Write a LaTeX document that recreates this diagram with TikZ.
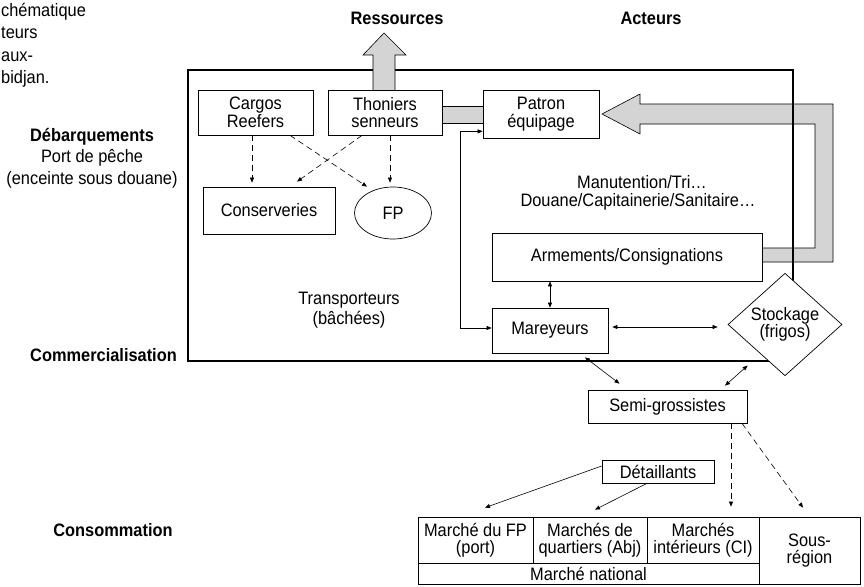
\documentclass[tikz,border=0pt]{standalone}
\usepackage{fontspec}
\setmainfont{Liberation Sans}[FakeStretch=0.91]
\usetikzlibrary{arrows.meta,shapes.geometric,calc}
\begin{document}
\begin{tikzpicture}[x=1pt,y=-1pt,
  every node/.style={font=\fontsize{18}{17.5}\selectfont},
  box/.style={draw, line width=0.7pt, fill=white, inner sep=0pt, align=center},
  free/.style={align=center, font=\fontsize{18}{20.5}\selectfont, inner sep=0pt},
  lab/.style={font=\bfseries\fontsize{18}{20}\selectfont, inner sep=0pt},
  tip/.tip={Triangle[length=5pt,width=4pt]},
  con/.style={line width=0.6pt, -tip},
  dcon/.style={line width=0.6pt, tip-tip},
  dsh/.style={con, dash pattern=on 6pt off 4pt},
  shade/.style={fill=black!17, draw=black, line width=0.6pt},
  frame/.style={line width=1.8pt},
]
\useasboundingbox (0,0) rectangle (864,586);

% frame of the port
\draw[frame] (188,70) rectangle (793,361);

% shaded flows
\draw[shade] (373,90) -- (373,55) -- (363,55) -- (384,33) -- (406,55) -- (395,55) -- (395,90);
\fill[black!17] (442,106) rectangle (483,123);
\draw[line width=0.6pt] (442,106) -- (483,106) (442,123) -- (483,123);
\draw[shade] (762,248) -- (815,248) -- (815,124) -- (640,124) -- (640,134) -- (602,114) -- (640,94) -- (640,104) -- (833,104) -- (833,262) -- (762,262);
\draw[frame] (793,70) -- (793,300);

% boxes
\node[box, minimum width=115pt, minimum height=45pt] (cargo) at (255.5,112.5) {Cargos\\Reefers};
\node[box, minimum width=114pt, minimum height=45pt] (thon) at (385,112.5) {Thoniers\\senneurs};
\node[box, minimum width=116pt, minimum height=48pt] (pat) at (541,114) {Patron\\équipage};
\node[box, minimum width=132pt, minimum height=47pt] (cons) at (269,210.5) {Conserveries};
\node[box, ellipse, minimum width=77pt, minimum height=52pt] (fp) at (393,213) {FP};
\node[box, minimum width=270pt, minimum height=48pt] (arm) at (627,257) {Armements/Consignations};
\node[box, minimum width=116pt, minimum height=45pt] (mar) at (550,330.5) {Mareyeurs};
\node[box, diamond, minimum width=114pt, minimum height=97pt] (stock) at (785,324.5) {Stockage\\(frigos)};
\node[box, minimum width=159pt, minimum height=33pt] (semi) at (667.5,406.5) {Semi-grossistes};
\node[box, minimum width=112pt, minimum height=23pt] (det) at (658,471.5) {Détaillants};
\node[box, minimum width=115pt, minimum height=46pt] (c1) at (475.5,540) {Marché du FP\\(port)};
\node[box, minimum width=114pt, minimum height=46pt] (c2) at (590,540) {Marchés de\\quartiers (Abj)};
\node[box, minimum width=112pt, minimum height=46pt] (c3) at (703,540) {Marchés\\intérieurs (CI)};
\node[box, minimum width=101pt, minimum height=67pt] (sr) at (809.5,550.5) {Sous-\\région};
\node[box, minimum width=341pt, minimum height=21pt] (nat) at (588.5,573.5) {Marché national};

% free texts
\node[free] (mt) at (642,182) {Manutention/Tri…};
\node[free] (dc) at (638,202) {Douane/Capitainerie/Sanitaire…};
\node[free] (tr) at (349,310) {Transporteurs\\(bâchées)};
\node[lab] (res) at (397,18) {Ressources};
\node[lab] (act) at (651,18) {Acteurs};
\node[lab] (deb) at (92,137) {Débarquements};
\node[free, font=\fontsize{18}{22}\selectfont] (port) at (92,169) {Port de pêche\\(enceinte sous douane)};
\node[lab, anchor=east] (com) at (177,355) {Commercialisation};
\node[lab] (cso) at (113,530) {Consommation};
\node[anchor=base west, inner sep=0pt] (t1) at (1,17) {chématique};
\node[anchor=base west, inner sep=0pt] (t2) at (1,39) {teurs};
\node[anchor=base west, inner sep=0pt] (t3) at (1,61) {aux-};
\node[anchor=base west, inner sep=0pt] (t4) at (1,83) {bidjan.};

% connectors
\draw[dsh, shorten >=4pt] ($(cargo.south)+(-3.5,0)$) -- ($(cargo.south |- cons.north)+(-3.5,0)$);
\draw[dsh, shorten >=4pt] ($(thon.south)+(5,0)$) -- ($(thon.south |- fp.north)+(5,0)$);
\draw[dsh] ($(cargo.south)+(34.5,0)$) -- ($(fp.north)+(-26,0)$);
\draw[dsh] ($(thon.south)+(-23,0)$) -- ($(cons.north)+(28,-5)$);
\draw[dcon] ($(pat.south west)+(0,-7)$) -- ++(-22,0) |- ($(mar.west)+(0,-2.5)$);
\draw[dcon] (mar.north) -- (mar.north |- arm.south);
\draw[dcon, shorten <=4pt, shorten >=10pt] ($(mar.east)+(0,-3.5)$) -- ($(mar.east -| stock.west)+(0,-3.5)$);
\draw[dcon] ($(mar.south)+(35,4)$) -- ($(semi.north)+(-48,-6)$);
\draw[dcon] ($(semi.north)+(57.5,-4)$) -- ($(stock.west)+(20,41)$);
\coordinate (s1) at ($(semi.south)+(63.5,0)$);
\draw[dsh, shorten >=10pt] (s1) -- (s1 |- c3.north);
\draw[dsh] ($(semi.south)+(74.5,0)$) -- ($(sr.north)+(-6.5,-9)$);
\draw[con] ($(det.west)+(0,-5.5)$) -- ($(c1.north)+(9.5,-9)$);
\draw[con] ($(det.south)+(-11,0)$) -- ($(c2.north)+(5,-7)$);
\end{tikzpicture}
\end{document}
